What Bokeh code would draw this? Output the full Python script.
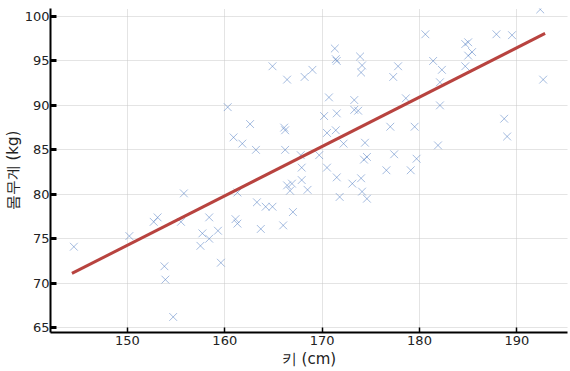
from bokeh.plotting import figure
from bokeh.models import FixedTicker, Range1d
from bokeh.embed import file_html
from bokeh.resources import INLINE

# Scatter data: height (cm) and weight (kg)
height_cm = [144.5, 150.2, 152.7, 153.1, 153.8, 153.9, 154.7, 155.5, 155.8, 157.5,
             157.7, 158.4, 158.4, 159.3, 159.6, 160.3, 160.9, 161.1, 161.3, 161.3,
             161.8, 162.6, 163.2, 163.3, 163.7, 164.2, 164.9, 164.9, 166.0, 166.1,
             166.2, 166.2, 166.4, 166.7, 166.9, 167.0, 166.4, 167.8, 167.9, 167.9,
             168.5, 168.2, 169.0, 169.7, 170.2, 170.5, 170.5, 170.7, 171.3, 171.4,
             171.5, 171.4, 171.5, 171.5, 171.8, 172.2, 173.1, 173.3, 173.3, 173.7,
             173.9, 174.1, 174.0, 174.0, 174.1, 174.3, 174.6, 174.4, 174.6, 176.6,
             177.0, 177.3, 177.4, 177.8, 178.6, 179.5, 179.1, 179.7, 180.6, 181.4,
             181.9, 182.1, 182.1, 182.3, 184.7, 185.0, 184.7, 185.0, 185.4, 187.9,
             188.7, 189.0, 189.5, 192.4, 192.7]
weight_kg = [74.1, 75.3, 76.9, 77.4, 71.9, 70.4, 66.2, 76.9, 80.1, 74.2,
             75.6, 77.4, 75.0, 75.9, 72.3, 89.8, 86.4, 77.2, 76.7, 80.2,
             85.7, 87.9, 85.0, 79.1, 76.1, 78.6, 78.6, 94.4, 76.5, 87.5,
             87.2, 85.0, 81.0, 80.4, 81.2, 78.0, 92.9, 84.4, 83.0, 81.6,
             80.5, 93.2, 94.0, 84.4, 88.8, 86.9, 83.0, 90.9, 96.4, 95.2,
             95.0, 87.2, 89.1, 81.9, 79.7, 85.7, 81.2, 90.6, 89.5, 89.4,
             95.5, 94.5, 93.7, 81.8, 80.3, 83.9, 84.2, 85.8, 79.5, 82.7,
             87.6, 93.2, 84.5, 94.4, 90.8, 87.6, 82.7, 84.0, 98.0, 95.0,
             85.5, 90.0, 92.6, 94.0, 96.9, 97.1, 94.4, 95.6, 96.0, 98.0,
             88.5, 86.5, 97.9, 100.8, 92.9]

# Fitted line endpoints
fit_x = [144.3, 192.9]
fit_y = [71.1, 98.1]

x_ticks = [150, 160, 170, 180, 190]
y_ticks = [65, 70, 75, 80, 85, 90, 95, 100]

p = figure(width=570, height=371, output_backend="svg", toolbar_location=None,
           x_range=Range1d(142.1, 195.2), y_range=Range1d(64.45, 100.9),
           min_border_left=50, min_border_right=3, min_border_top=8,
           min_border_bottom=39)

p.outline_line_color = None
p.background_fill_color = "white"
p.border_fill_color = "white"

p.scatter(height_cm, weight_kg, marker="x", size=11, line_color="#4a78c0",
          line_alpha=0.5, line_width=1)
p.line(fit_x, fit_y, line_color="#b8433f", line_width=3)

for g in (p.xgrid, p.ygrid):
    g.grid_line_color = "#c8c8c8"
    g.grid_line_dash = "1 1"
    g.grid_line_width = 1

p.xaxis.ticker = FixedTicker(ticks=x_ticks)
p.yaxis.ticker = FixedTicker(ticks=y_ticks)
p.xgrid.ticker = FixedTicker(ticks=x_ticks)
p.ygrid.ticker = FixedTicker(ticks=y_ticks)

p.xaxis.axis_label = "키 (cm)"
p.yaxis.axis_label = "몸무게 (kg)"

for ax in (p.xaxis, p.yaxis):
    ax.axis_line_color = "black"
    ax.axis_line_width = 2
    ax.minor_tick_line_color = None
    ax.major_tick_out = 0
    ax.major_label_text_font = "DejaVu Sans"
    ax.major_label_text_font_size = "13px"
    ax.major_label_text_color = "#222222"
    ax.axis_label_text_font = "DejaVu Sans"
    ax.axis_label_text_font_size = "15px"
    ax.axis_label_text_font_style = "normal"
    ax.axis_label_text_color = "#222222"

p.yaxis.major_label_standoff = 1
p.yaxis.axis_label_standoff = 0
p.xaxis.major_label_standoff = 3
p.xaxis.axis_label_standoff = 2

p.yaxis.major_tick_in = 6
p.yaxis.major_tick_line_width = 3
p.xaxis.major_tick_in = 5
p.xaxis.major_tick_line_width = 1.5

open("out.html", "w").write(file_html(p, INLINE))
